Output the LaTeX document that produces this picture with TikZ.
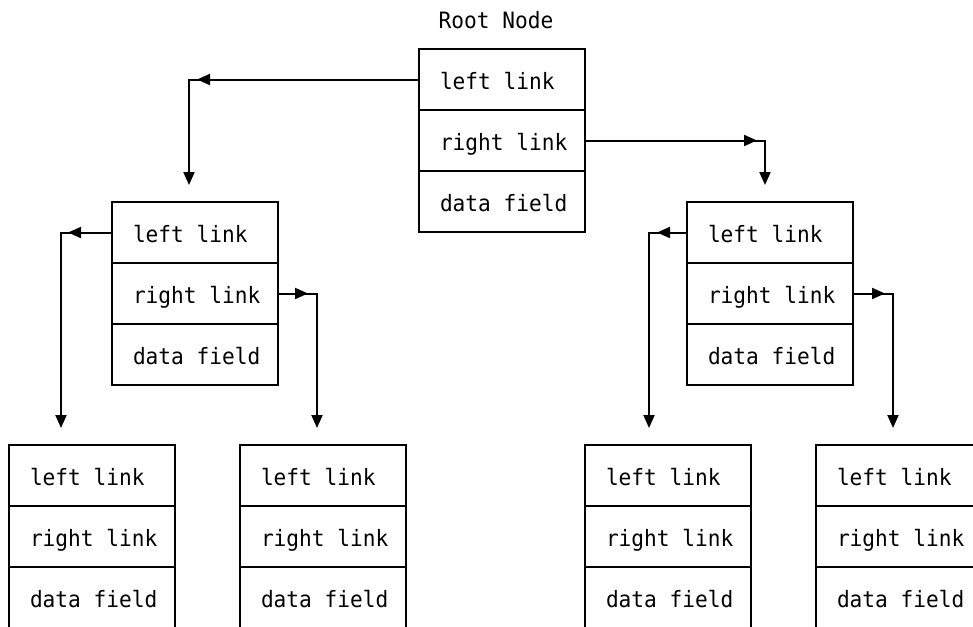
\documentclass[tikz,border=0pt]{standalone}
\usepackage{fontspec}
\newfontfamily\monofam[FakeStretch=0.94]{DejaVu Sans Mono}
\usetikzlibrary{arrows.meta}
\tikzset{
  cell/.style={inner xsep=21pt, inner ysep=0pt, outer sep=0pt,
    minimum height=61pt, text height=21pt, text depth=2pt, anchor=north west,
    font=\monofam\fontsize{22.5}{25}\selectfont},
  frame/.style={line width=2pt},
  arr/.style={line width=2pt, -{Triangle[length=13pt,width=11pt]}},
  title/.style={font=\monofam\fontsize{22.5}{25}\selectfont, inner sep=0pt}
}
\newcommand\cellbox[1]{\makebox[124pt][l]{#1}}
\newcommand\record[4]{% name, x, y
  \node[cell] (#11) at (#2,#3) {\cellbox{left link}};
  \node[cell] (#12) at (#11.south west) {\cellbox{right link}};
  \node[cell] (#13) at (#12.south west) {\cellbox{data field}};
  \draw[frame] (#11.north west) rectangle (#13.south east);
  \draw[frame] (#11.south west) -- (#11.south east);
  \draw[frame] (#12.south west) -- (#12.south east);
}
\begin{document}
\begin{tikzpicture}[x=1pt,y=-1pt]
\useasboundingbox (0,0) rectangle (973,626);
\node[title] (title) at (496,20) {Root Node};
\record{r}{419}{49}{}
\record{a}{112}{202}{}
\record{b}{687}{202}{}
\record{c}{9}{445}{}
\record{d}{240}{445}{}
\record{e}{585}{445}{}
\record{f}{816}{445}{}
% arrow tips (x positions of mid-line heads, ends of down arrows)
\coordinate (rlh) at (197,0);  \coordinate (rlt) at (189,185);
\coordinate (rrh) at (757,0);  \coordinate (rrt) at (765,185);
\coordinate (alh) at (68,0);   \coordinate (alt) at (61,428);
\coordinate (arh) at (308,0);  \coordinate (art) at (317,428);
\coordinate (blh) at (657,0);  \coordinate (blt) at (649,428);
\coordinate (brh) at (885,0);  \coordinate (brt) at (893,428);
% connectors
\draw[arr] (r1.west) -| (rlt);  \draw[arr] (r1.west) -- (r1.west -| rlh);
\draw[arr] (r2.east) -| (rrt);  \draw[arr] (r2.east) -- (r2.east -| rrh);
\draw[arr] (a1.west) -| (alt);  \draw[arr] (a1.west) -- (a1.west -| alh);
\draw[arr] (a2.east) -| (art);  \draw[arr] (a2.east) -- (a2.east -| arh);
\draw[arr] (b1.west) -| (blt);  \draw[arr] (b1.west) -- (b1.west -| blh);
\draw[arr] (b2.east) -| (brt);  \draw[arr] (b2.east) -- (b2.east -| brh);
\end{tikzpicture}
\end{document}
